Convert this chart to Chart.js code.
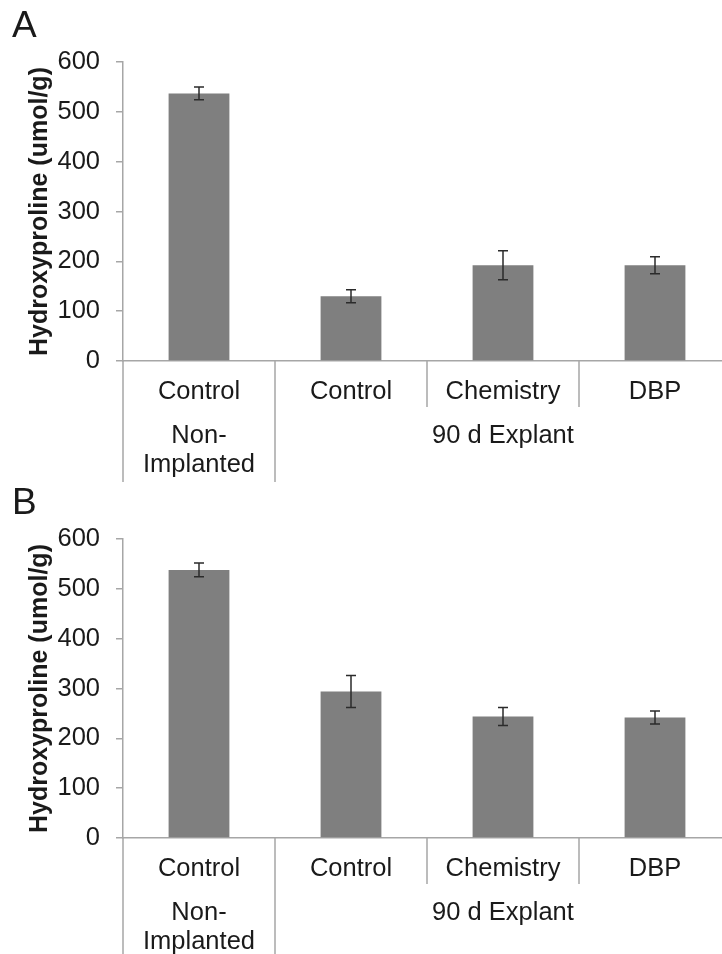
<!DOCTYPE html>
<html>
<head>
<meta charset="utf-8">
<script src="https://cdn.jsdelivr.net/npm/chart.js@4.4.1/dist/chart.umd.min.js"></script>
<style>
  html, body { margin: 0; padding: 0; background: #fff; overflow: hidden; width: 722px; height: 954px; }
  canvas { position: absolute; left: 0; }
  #chartA { top: 0; }
  #chartB { top: 477px; }
</style>
</head>
<body>
<canvas id="chartA" width="740" height="482"></canvas>
<canvas id="chartB" width="740" height="482"></canvas>
<script>
// categories on the x axis and the groups that sit under them
const categories = ['Control', 'Control', 'Chemistry', 'DBP'];
const groupLabels = [['Non-', 'Implanted'], ['90 d Explant']];
const groupSpans = [1, 3];

// panel A
const valuesA = [537, 130, 192, 192];
const errorsA = [13, 13, 29, 17];

// panel B
const valuesB = [538, 294, 244, 242];
const errorsB = [14, 32, 18, 13];

const yMin = 0;
const yMax = 600;
const yStep = 100;
const yTitle = 'Hydroxyproline (umol/g)';

const FONT = "'Liberation Sans', Arial, sans-serif";
const axisGray = '#a6a6a6';
const textColor = '#1a1a1a';

// error bars + x-axis separators and group labels
const extrasPlugin = {
    id: 'extras',
    afterDatasetsDraw(chart) {
        const ctx = chart.ctx;
        const y = chart.scales.y;
        const meta = chart.getDatasetMeta(0);
        const errs = chart.data.datasets[0].errors;
        ctx.save();
        ctx.strokeStyle = '#2b2b2b';
        ctx.lineWidth = 1.5;
        meta.data.forEach((bar, i) => {
            const v = chart.data.datasets[0].data[i];
            const top = y.getPixelForValue(v + errs[i]);
            const bot = y.getPixelForValue(v - errs[i]);
            ctx.beginPath();
            ctx.moveTo(bar.x, top); ctx.lineTo(bar.x, bot);
            ctx.moveTo(bar.x - 5, top); ctx.lineTo(bar.x + 5, top);
            ctx.moveTo(bar.x - 5, bot); ctx.lineTo(bar.x + 5, bot);
            ctx.stroke();
        });
        ctx.restore();
    },
    afterDraw(chart) {
        const ctx = chart.ctx;
        const x = chart.scales.x;
        const base = chart.chartArea.bottom;
        const n = categories.length;
        const w = (x.right - x.left) / n;

        const groupEdges = [0];
        groupSpans.forEach(s => groupEdges.push(groupEdges[groupEdges.length - 1] + s));

        ctx.save();
        ctx.strokeStyle = axisGray;
        ctx.lineWidth = 1.5;
        for (let i = 0; i <= n; i++) {
            const px = x.left + i * w;
            const long = groupEdges.includes(i);
            ctx.beginPath();
            ctx.moveTo(px, base);
            ctx.lineTo(px, long ? chart.height : base + 46);
            ctx.stroke();
        }

        ctx.fillStyle = textColor;
        ctx.font = '25.5px ' + FONT;
        ctx.textAlign = 'center';
        ctx.textBaseline = 'middle';
        groupLabels.forEach((lines, g) => {
            const first = groupEdges[g];
            const last = groupEdges[g + 1] - 1;
            const cx = (x.getPixelForValue(first) + x.getPixelForValue(last)) / 2;
            lines.forEach((line, k) => {
                ctx.fillText(line, cx, base + 75 + k * 29);
            });
        });
        ctx.restore();
    }
};

function makeChart(id, letter, values, errors) {
    return new Chart(document.getElementById(id).getContext('2d'), {
        type: 'bar',
        data: {
            labels: categories,
            datasets: [{
                data: values,
                errors: errors,
                backgroundColor: '#7f7f7f',
                borderWidth: 0,
                barPercentage: 0.4,
                categoryPercentage: 1.0
            }]
        },
        options: {
            responsive: false,
            animation: false,
            layout: { padding: { top: 0, right: 9, left: 12, bottom: 0 } },
            plugins: {
                legend: { display: false },
                tooltip: { enabled: false },
                title: {
                    display: true,
                    text: letter,
                    align: 'start',
                    color: textColor,
                    font: { family: FONT, size: 37, weight: 'normal', lineHeight: 1.2 },
                    padding: { top: 5, bottom: 12.6 }
                }
            },
            scales: {
                x: {
                    grid: { display: false, drawTicks: false },
                    border: { display: true, color: axisGray, width: 1.5 },
                    ticks: {
                        color: textColor,
                        font: { family: FONT, size: 25.5 },
                        padding: 16,
                        maxRotation: 0,
                        autoSkip: false
                    },
                    afterFit(scale) { scale.height = 121; }
                },
                y: {
                    min: yMin,
                    max: yMax,
                    grid: { drawOnChartArea: false, drawTicks: true, tickLength: 7, color: axisGray, lineWidth: 1.5 },
                    border: { display: true, color: axisGray, width: 1.5 },
                    ticks: {
                        stepSize: yStep,
                        color: textColor,
                        font: { family: FONT, size: 25.5 },
                        padding: 16
                    },
                    title: {
                        display: true,
                        text: yTitle,
                        color: textColor,
                        font: { family: FONT, size: 25, weight: 'bold', lineHeight: 1.2 },
                        padding: { top: 13, bottom: 0 }
                    },
                    afterFit(scale) { scale.width = 111; }
                }
            }
        },
        plugins: [extrasPlugin]
    });
}

makeChart('chartA', 'A', valuesA, errorsA);
makeChart('chartB', 'B', valuesB, errorsB);
</script>
</body>
</html>
